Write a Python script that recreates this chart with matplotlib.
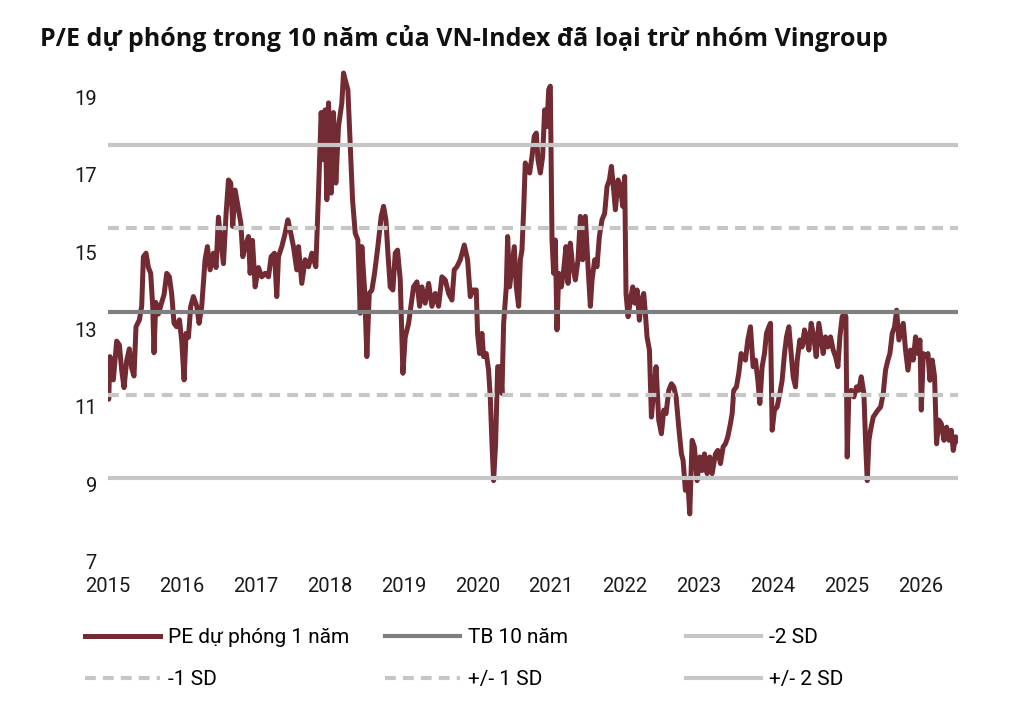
import matplotlib.pyplot as plt
from matplotlib.lines import Line2D

# forward P/E of VN-Index ex Vingroup (decimal years)
years = [
    2015.000, 2015.009, 2015.027, 2015.072, 2015.117, 2015.154, 2015.185, 2015.217, 2015.253, 2015.289,
    2015.321, 2015.352, 2015.379, 2015.425, 2015.456, 2015.479, 2015.515, 2015.547, 2015.578, 2015.605,
    2015.623, 2015.646, 2015.682, 2015.727, 2015.759, 2015.795, 2015.831, 2015.863, 2015.894, 2015.930,
    2015.967, 2015.998, 2016.030, 2016.057, 2016.089, 2016.120, 2016.156, 2016.202, 2016.233, 2016.269,
    2016.314, 2016.346, 2016.382, 2016.427, 2016.463, 2016.495, 2016.527, 2016.563, 2016.599, 2016.631,
    2016.662, 2016.689, 2016.721, 2016.766, 2016.798, 2016.825, 2016.856, 2016.902, 2016.924, 2016.956,
    2016.992, 2017.037, 2017.082, 2017.127, 2017.173, 2017.209, 2017.254, 2017.285, 2017.308, 2017.353,
    2017.398, 2017.435, 2017.466, 2017.511, 2017.556, 2017.579, 2017.624, 2017.669, 2017.715, 2017.760,
    2017.814, 2017.850, 2017.886, 2017.918, 2017.940, 2017.963, 2017.986, 2018.022, 2018.053, 2018.085,
    2018.121, 2018.166, 2018.189, 2018.211, 2018.248, 2018.279, 2018.311, 2018.347, 2018.383, 2018.415,
    2018.437, 2018.474, 2018.505, 2018.537, 2018.573, 2018.609, 2018.654, 2018.699, 2018.731, 2018.763,
    2018.790, 2018.821, 2018.857, 2018.889, 2018.920, 2018.957, 2018.993, 2019.024, 2019.070, 2019.101,
    2019.137, 2019.183, 2019.219, 2019.250, 2019.295, 2019.341, 2019.386, 2019.431, 2019.476, 2019.521,
    2019.566, 2019.612, 2019.657, 2019.688, 2019.724, 2019.770, 2019.824, 2019.869, 2019.905, 2019.941,
    2019.986, 2020.004, 2020.032, 2020.063, 2020.086, 2020.122, 2020.153, 2020.176, 2020.199, 2020.221,
    2020.248, 2020.276, 2020.312, 2020.334, 2020.357, 2020.393, 2020.411, 2020.438, 2020.470, 2020.501,
    2020.528, 2020.560, 2020.583, 2020.605, 2020.628, 2020.650, 2020.682, 2020.709, 2020.741, 2020.772,
    2020.799, 2020.822, 2020.854, 2020.885, 2020.912, 2020.944, 2020.967, 2020.989, 2021.012, 2021.034,
    2021.057, 2021.079, 2021.102, 2021.138, 2021.170, 2021.201, 2021.229, 2021.260, 2021.292, 2021.328,
    2021.364, 2021.396, 2021.427, 2021.463, 2021.500, 2021.531, 2021.554, 2021.590, 2021.621, 2021.653,
    2021.689, 2021.725, 2021.757, 2021.789, 2021.816, 2021.847, 2021.870, 2021.906, 2021.938, 2021.969,
    2021.996, 2022.014, 2022.042, 2022.073, 2022.105, 2022.132, 2022.164, 2022.195, 2022.222, 2022.254,
    2022.276, 2022.299, 2022.331, 2022.358, 2022.389, 2022.421, 2022.457, 2022.493, 2022.525, 2022.556,
    2022.593, 2022.629, 2022.660, 2022.692, 2022.728, 2022.764, 2022.787, 2022.818, 2022.850, 2022.877,
    2022.909, 2022.940, 2022.976, 2023.013, 2023.044, 2023.076, 2023.112, 2023.148, 2023.180, 2023.225,
    2023.257, 2023.293, 2023.329, 2023.360, 2023.392, 2023.428, 2023.451, 2023.473, 2023.509, 2023.541,
    2023.573, 2023.600, 2023.631, 2023.663, 2023.699, 2023.735, 2023.767, 2023.799, 2023.826, 2023.857,
    2023.889, 2023.916, 2023.948, 2023.970, 2023.993, 2024.024, 2024.060, 2024.097, 2024.128, 2024.160,
    2024.187, 2024.219, 2024.250, 2024.277, 2024.309, 2024.332, 2024.368, 2024.399, 2024.431, 2024.458,
    2024.490, 2024.521, 2024.557, 2024.589, 2024.625, 2024.684, 2024.715, 2024.747, 2024.783, 2024.819,
    2024.851, 2024.883, 2024.910, 2024.941, 2024.973, 2024.991, 2025.009, 2025.032, 2025.063, 2025.099,
    2025.135, 2025.167, 2025.199, 2025.235, 2025.257, 2025.280, 2025.303, 2025.325, 2025.361, 2025.393,
    2025.425, 2025.461, 2025.497, 2025.528, 2025.560, 2025.587, 2025.619, 2025.650, 2025.678, 2025.709,
    2025.732, 2025.768, 2025.799, 2025.831, 2025.867, 2025.903, 2025.935, 2025.967, 2025.994, 2026.012,
    2026.039, 2026.070, 2026.102, 2026.129, 2026.161, 2026.192, 2026.219, 2026.251, 2026.283, 2026.319,
    2026.355, 2026.386, 2026.418, 2026.445, 2026.477, 2026.509,
]
pe = [
    12.10, 11.20, 12.30, 11.70, 12.70, 12.60, 11.95, 11.50, 12.20, 12.50,
    12.00, 11.80, 13.07, 13.25, 13.60, 14.88, 14.97, 14.60, 14.45, 13.60,
    12.40, 13.70, 13.40, 13.70, 13.90, 14.45, 14.36, 13.90, 13.16, 13.07,
    13.25, 12.70, 11.70, 12.90, 12.80, 13.60, 13.85, 13.60, 13.16, 13.60,
    14.80, 15.14, 14.54, 14.97, 14.60, 15.90, 15.30, 14.70, 16.00, 16.86,
    16.78, 15.66, 16.60, 16.10, 15.75, 14.88, 15.14, 15.40, 14.45, 15.30,
    14.10, 14.60, 14.36, 14.45, 14.36, 14.88, 14.97, 13.85, 14.88, 15.14,
    15.48, 15.83, 15.57, 15.14, 14.54, 15.14, 14.19, 14.80, 14.62, 14.97,
    14.62, 16.52, 18.60, 17.38, 18.67, 16.35, 18.85, 16.52, 18.60, 16.78,
    18.24, 18.85, 19.62, 19.45, 19.19, 17.80, 16.35, 15.49, 15.31, 13.42,
    15.14, 14.02, 12.30, 13.93, 14.02, 14.45, 15.14, 15.92, 16.18, 15.83,
    14.97, 14.10, 14.02, 14.97, 15.05, 14.28, 11.87, 12.80, 13.16, 13.60,
    14.10, 14.23, 13.60, 14.10, 13.68, 14.19, 13.60, 13.93, 13.60, 14.36,
    14.28, 13.93, 13.76, 14.54, 14.62, 14.80, 15.18, 14.80, 13.85, 14.02,
    14.02, 12.90, 12.38, 12.90, 12.30, 12.38, 11.95, 11.26, 10.05, 9.10,
    10.05, 12.04, 12.04, 11.35, 13.16, 14.10, 15.40, 14.10, 14.62, 15.14,
    14.10, 13.60, 14.80, 15.05, 16.09, 17.30, 17.12, 17.04, 17.47, 17.99,
    18.07, 17.38, 17.04, 17.47, 18.67, 18.24, 19.19, 19.28, 15.31, 14.45,
    15.31, 12.99, 14.45, 14.10, 14.54, 15.14, 14.19, 15.23, 14.62, 14.28,
    14.80, 15.92, 14.80, 15.92, 14.62, 13.60, 14.28, 14.80, 14.62, 15.40,
    15.83, 16.00, 16.69, 16.86, 17.21, 16.60, 16.09, 16.86, 16.69, 16.18,
    16.95, 13.93, 13.33, 13.76, 14.10, 13.68, 14.02, 13.24, 13.76, 13.93,
    13.42, 12.80, 12.47, 10.74, 11.43, 12.04, 10.66, 10.31, 10.92, 10.83,
    11.43, 11.60, 11.52, 11.26, 10.48, 9.79, 9.62, 8.85, 9.10, 8.24,
    10.14, 9.97, 9.10, 9.71, 9.36, 9.79, 9.28, 9.71, 9.28, 9.79,
    9.88, 9.54, 9.97, 10.05, 10.23, 10.57, 10.83, 11.43, 11.52, 11.87,
    12.38, 12.30, 12.21, 12.73, 13.07, 12.04, 12.21, 11.69, 11.09, 12.04,
    12.38, 12.90, 13.07, 13.16, 10.40, 10.92, 11.00, 11.35, 11.69, 12.38,
    12.81, 13.07, 12.38, 11.78, 11.52, 12.21, 12.73, 12.55, 12.99, 12.81,
    12.47, 13.16, 12.81, 12.30, 13.16, 12.38, 12.81, 12.55, 12.81, 12.47,
    12.30, 12.04, 12.81, 13.33, 13.42, 13.33, 9.71, 11.35, 11.43, 11.26,
    11.52, 11.43, 11.78, 11.35, 10.14, 9.10, 10.14, 10.40, 10.74, 10.83,
    10.92, 11.00, 11.35, 11.95, 12.21, 12.38, 12.90, 13.07, 13.50, 12.73,
    12.90, 13.16, 12.47, 11.95, 12.47, 12.21, 12.81, 12.38, 12.73, 10.92,
    12.38, 12.30, 12.38, 11.69, 12.21, 11.78, 10.05, 10.66, 10.57, 10.14,
    10.48, 10.14, 10.40, 9.88, 10.23, 10.14,
]

# 10y average and standard deviation bands
mean_10y = 13.46
sd_levels = {"+1": 15.61, "-1": 11.31, "+2": 17.77, "-2": 9.16}

y_ticks = [7, 9, 11, 13, 15, 17, 19]
x_ticks = list(range(2015, 2027))

title = "P/E dự phóng trong 10 năm của VN-Index đã loại trừ nhóm Vingroup"

MAROON = "#722a33"
DARK_GREY = "#7f7f7f"
LIGHT_GREY = "#c6c6c6"
DASH = (0, (2.6, 1.7))

plt.rcParams["font.family"] = ["Roboto", "DejaVu Sans"]

fig = plt.figure(figsize=(10.2, 7.11), dpi=100)
ax = fig.add_axes([0.1059, 0.2096, 0.8333, 0.7084])

ax.plot(years, pe, color=MAROON, lw=3.6, solid_joinstyle="round", zorder=2)

ax.axhline(sd_levels["+2"], color=LIGHT_GREY, lw=3, zorder=3)
ax.axhline(sd_levels["+1"], color=LIGHT_GREY, lw=3, ls=DASH, zorder=3)
ax.axhline(mean_10y, color=DARK_GREY, lw=3, zorder=3)
ax.axhline(sd_levels["-1"], color=LIGHT_GREY, lw=3, ls=DASH, zorder=3)
ax.axhline(sd_levels["-2"], color=LIGHT_GREY, lw=3, zorder=3)

ax.set_xlim(years[0], years[-1])
ax.set_ylim(7, 20)
ax.set_yticks(y_ticks)
ax.set_xticks(x_ticks)
ax.set_xticklabels([str(y) for y in x_ticks])
ax.tick_params(length=0, labelsize=14.5, colors="#1a1a1a")
ax.tick_params(axis="x", pad=11)
ax.tick_params(axis="y", pad=8)
for s in ax.spines.values():
    s.set_visible(False)

fig.text(40 / 1020, 1 - 38 / 711, title, fontsize=18, fontweight="bold",
         family=["Open Sans", "DejaVu Sans"], va="center", ha="left", color="#111111")

# legend: three columns laid out by hand
cols = [
    [(Line2D([], [], color=MAROON, lw=3.6), "PE dự phóng 1 năm"),
     (Line2D([], [], color=LIGHT_GREY, lw=3, ls=DASH), "-1 SD")],
    [(Line2D([], [], color=DARK_GREY, lw=3), "TB 10 năm"),
     (Line2D([], [], color=LIGHT_GREY, lw=3, ls=DASH), "+/- 1 SD")],
    [(Line2D([], [], color=LIGHT_GREY, lw=3), "-2 SD"),
     (Line2D([], [], color=LIGHT_GREY, lw=3), "+/- 2 SD")],
]
col_x = [85, 385, 686]
for cx, entries in zip(col_x, cols):
    fig.legend([h for h, _ in entries], [t for _, t in entries],
               loc="upper left", bbox_to_anchor=(cx / 1020, 1 - 628 / 711),
               frameon=False, fontsize=15, handlelength=3.6, handletextpad=0.4,
               labelspacing=1.1, borderpad=0, borderaxespad=0)

fig.savefig("out.png", dpi=100)
